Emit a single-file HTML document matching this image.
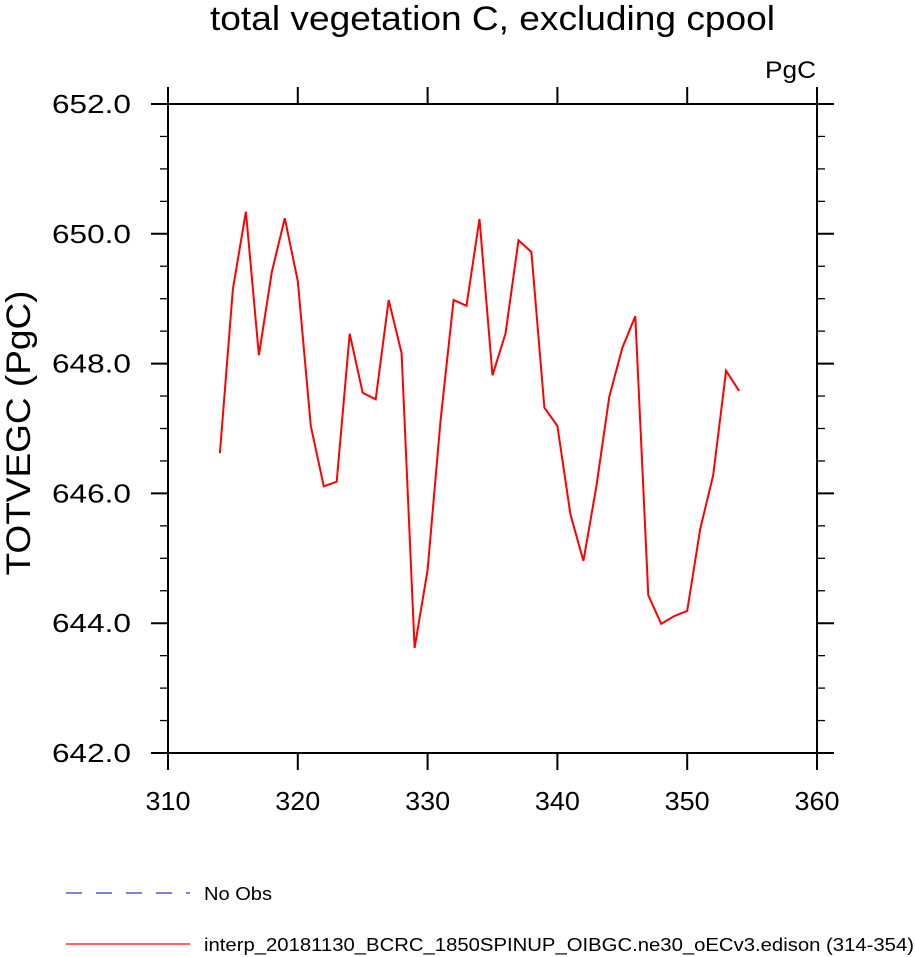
<!DOCTYPE html>
<html><head><meta charset="utf-8"><style>
html,body{margin:0;padding:0;background:#fff;width:915px;height:957px;overflow:hidden}
svg text{font-family:"Liberation Sans",Helvetica,Arial,sans-serif;fill:#000}
</style></head><body>
<svg id="chart" width="915" height="957" viewBox="0 0 915 957">
<text x="210" y="30" font-size="34" textLength="565" lengthAdjust="spacingAndGlyphs">total vegetation C, excluding cpool</text>
<text x="765" y="78" font-size="24" textLength="51" lengthAdjust="spacingAndGlyphs">PgC</text>
<text transform="translate(30,433) rotate(-90)" font-size="34" text-anchor="middle" textLength="285" lengthAdjust="spacingAndGlyphs">TOTVEGC  (PgC)</text>
<rect x="168" y="104" width="649" height="649" fill="none" stroke="#000" stroke-width="2"/>
<g id="axes"></g>
<g id="series"></g>
<g>
<line x1="66" y1="893" x2="190" y2="893" stroke="#3333cc" stroke-width="1.2" stroke-dasharray="16,14"/>
<text x="204" y="900" font-size="18" textLength="68" lengthAdjust="spacingAndGlyphs">No Obs</text>
<line x1="66" y1="944" x2="190" y2="944" stroke="#ff0000" stroke-width="1.2"/>
<text x="204" y="951" font-size="18" textLength="710" lengthAdjust="spacingAndGlyphs">interp_20181130_BCRC_1850SPINUP_OIBGC.ne30_oECv3.edison (314-354)</text>
</g>
</svg>
<script>
const years=[314,315,316,317,318,319,320,321,322,323,324,325,326,327,328,329,330,331,332,333,334,335,336,337,338,339,340,341,342,343,344,345,346,347,348,349,350,351,352,353,354];
const values=[646.62,649.15,650.34,648.13,649.41,650.24,649.27,647.04,646.11,646.18,648.46,647.55,647.45,648.98,648.16,643.62,644.82,647.13,648.98,648.89,650.23,647.82,648.46,649.90,649.72,647.32,647.04,645.68,644.96,646.10,647.49,648.24,648.73,644.43,643.99,644.11,644.19,645.45,646.28,647.89,647.58];
const xTicks=[310,320,330,340,350,360];
const yTicks=[642,644,646,648,650,652];
const NS="http://www.w3.org/2000/svg";
const X0=168,X1=817,Y0=753,Y1=104;
function xs(v){return X0+(v-310)/(360-310)*(X1-X0);}
function ys(v){return Y0-(v-642)/(652-642)*(Y0-Y1);}
function mk(tag,attrs,parent){const e=document.createElementNS(NS,tag);for(const k in attrs)e.setAttribute(k,attrs[k]);parent.appendChild(e);return e;}
const ax=document.getElementById('axes');
xTicks.forEach(t=>{
  const x=xs(t);
  const a=mk('line',{x1:x,y1:Y0,x2:x,y2:Y0+17,stroke:'#000','stroke-width':2},ax);
  
  
  const b=mk('line',{x1:x,y1:Y1,x2:x,y2:Y1-17,stroke:'#000','stroke-width':2},ax);
  
  
  const l=mk('text',{x:x,y:Y0+57,'font-size':26,'text-anchor':'middle',textLength:45,lengthAdjust:'spacingAndGlyphs'},ax);
  l.textContent=t;
  
  
});
for(let v=642;v<=652.001;v+=0.5){
  const y=ys(v);const major=Math.abs(v-Math.round(v))<1e-6&&Math.round(v)%2===0;
  const len=major?17:8;
  const a=mk('line',{x1:X0,y1:y,x2:X0-len,y2:y,stroke:'#000','stroke-width':major?2:1.3},ax);
  
  
  const b=mk('line',{x1:X1,y1:y,x2:X1+len,y2:y,stroke:'#000','stroke-width':major?2:1.3},ax);
  
  
}
yTicks.forEach(t=>{
  const l=mk('text',{x:52,y:ys(t)+9,'font-size':26,textLength:79,lengthAdjust:'spacingAndGlyphs'},ax);
  l.textContent=t.toFixed(1);
  
  
});
const sg=document.getElementById('series');
const pts=years.map((yr,i)=>xs(yr).toFixed(1)+','+ys(values[i]).toFixed(1)).join(' ');
const pl=mk('polyline',{points:pts,fill:'none',stroke:'#ff0000','stroke-width':2},sg);


</script>
</body></html>
